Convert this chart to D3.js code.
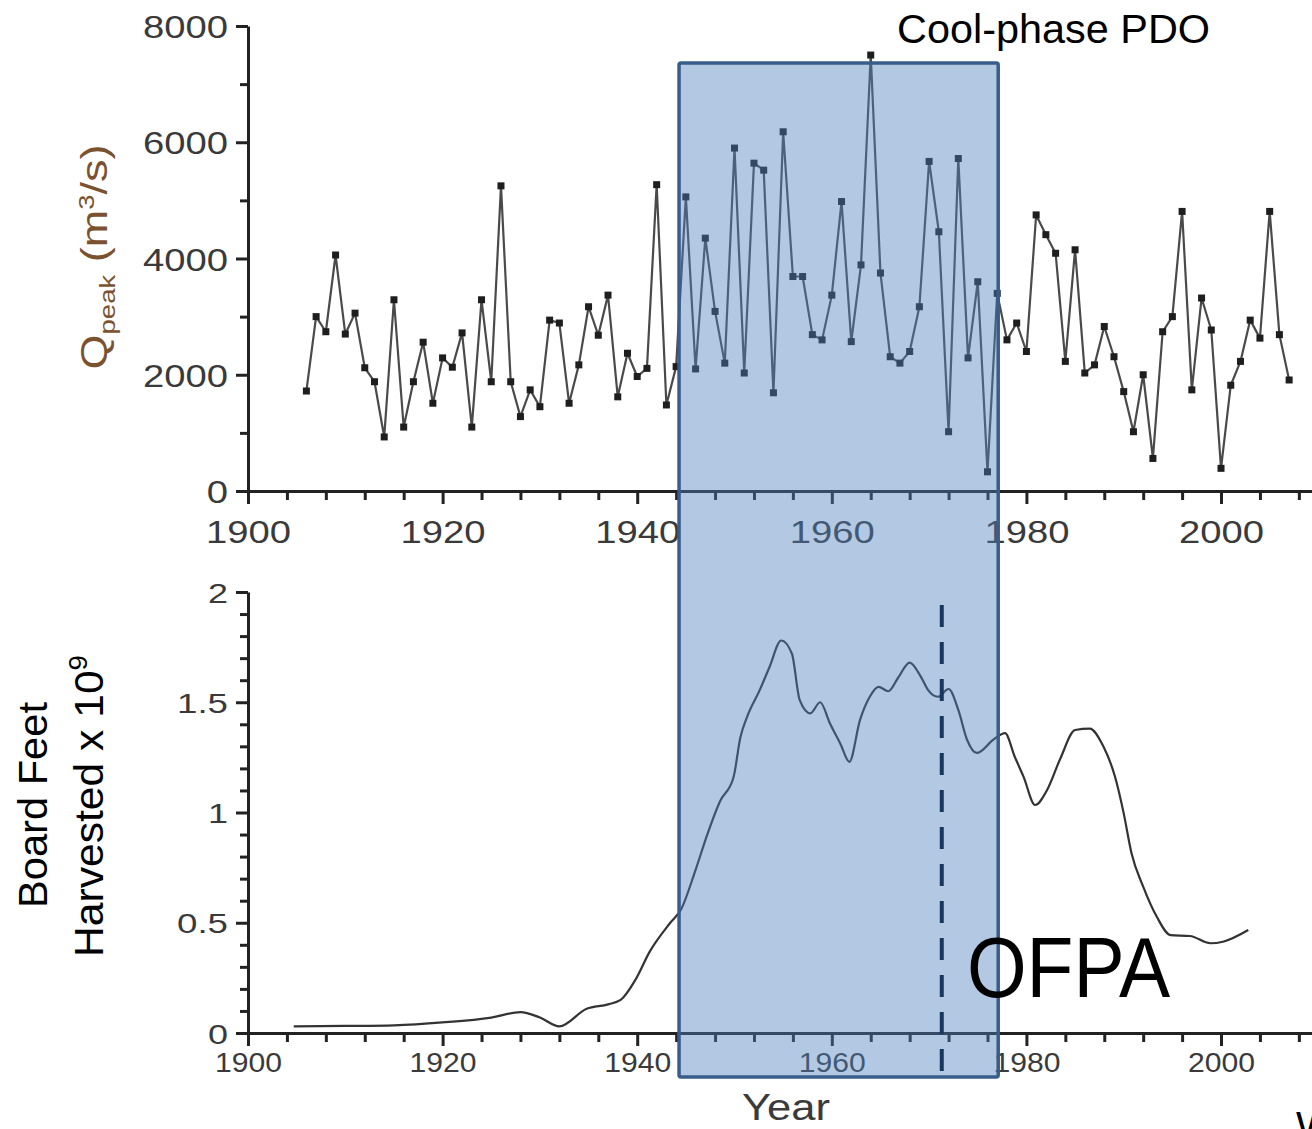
<!DOCTYPE html>
<html><head><meta charset="utf-8">
<script src="https://cdn.jsdelivr.net/npm/d3@7"></script>
<style>html,body{margin:0;padding:0;background:#fff;overflow:hidden}</style>
</head><body><svg id="c" width="1312" height="1129"></svg>
<script>
// ---------- data ----------
const peakYears = [1906,1907,1908,1909,1910,1911,1912,1913,1914,1915,1916,1917,1918,1919,1920,1921,1922,1923,1924,1925,1926,1927,1928,1929,1930,1931,1932,1933,1934,1935,1936,1937,1938,1939,1940,1941,1942,1943,1944,1945,1946,1947,1948,1949,1950,1951,1952,1953,1954,1955,1956,1957,1958,1959,1960,1961,1962,1963,1964,1965,1966,1967,1968,1969,1970,1971,1972,1973,1974,1975,1976,1977,1978,1979,1980,1981,1982,1983,1984,1985,1986,1987,1988,1989,1990,1991,1992,1993,1994,1995,1996,1997,1998,1999,2000,2001,2002,2003,2004,2005,2006,2007];
const peakFlow = [1720,3000,2740,4060,2700,3060,2120,1880,930,3290,1100,1880,2560,1510,2290,2130,2720,1100,3290,1880,5250,1880,1280,1740,1450,2940,2890,1510,2170,3170,2680,3370,1620,2370,1970,2110,5270,1480,2140,5060,2100,4350,3090,2200,5900,2030,5640,5520,1690,6180,3690,3690,2690,2600,3370,4980,2570,3890,7500,3750,2310,2200,2400,3170,5670,4460,1020,5720,2290,3600,330,3400,2600,2890,2400,4750,4410,4090,2230,4150,2030,2170,2830,2310,1710,1020,2000,560,2740,3000,4810,1740,3320,2770,390,1820,2230,2940,2630,4810,2690,1910];

const harvestYears = [1904.7,1910,1915,1920,1925,1928,1930,1932,1934.8,1937,1938.3,1939.8,1941.3,1943.4,1944.5,1946,1947.2,1948.5,1949.9,1950.6,1951.3,1952.6,1953.6,1954.8,1955.9,1956.7,1957.8,1958.8,1959.8,1960.9,1961.8,1962.9,1963.9,1964.8,1965.8,1966.8,1968.0,1969.1,1969.9,1970.9,1972.0,1973.0,1973.9,1974.9,1976.6,1977.8,1978.8,1979.7,1980.9,1982.1,1983.5,1985.0,1986.5,1987.9,1989.1,1990.0,1990.8,1992.0,1993.4,1994.8,1996.8,1998.9,2000.2,2002.8];
const harvestBF = [0.03,0.032,0.035,0.048,0.07,0.095,0.07,0.03,0.11,0.13,0.15,0.24,0.37,0.5,0.56,0.74,0.9,1.05,1.16,1.34,1.435,1.556,1.66,1.78,1.72,1.51,1.45,1.5,1.405,1.31,1.23,1.42,1.525,1.57,1.55,1.61,1.68,1.62,1.555,1.525,1.56,1.465,1.33,1.27,1.33,1.36,1.253,1.163,1.034,1.1,1.246,1.374,1.38,1.3,1.163,0.996,0.815,0.664,0.527,0.444,0.44,0.407,0.414,0.467];

const xMajorTicks = [1900,1920,1940,1960,1980,2000];
const xTickLabels = ["1900","1920","1940","1960","1980","2000"];
const xMinorTicks = [1904,1908,1912,1916,1924,1928,1932,1936,1944,1948,1952,1956,1964,1968,1972,1976,1984,1988,1992,1996,2004,2008];
const qMajorTicks = [0,2000,4000,6000,8000];
const qTickLabels = ["0","2000","4000","6000","8000"];
const qMinorTicks = [1000,3000,5000,7000];
const bfMajorTicks = [0,0.5,1,1.5,2];
const bfTickLabels = ["0","0.5","1","1.5","2"];
const bfMinorTicks = [0.1,0.2,0.3,0.4,0.6,0.7,0.8,0.9,1.1,1.2,1.3,1.4,1.6,1.7,1.8,1.9];
const pdoPhase = [1944.3, 1977.1];
const ofpaYear = 1971.3;

// ---------- drawing ----------
const svg = d3.select("#c");
const AX = "#222";
const x = d3.scaleLinear().domain([1900, 2009.35]).range([248, 1312]);
const yQ = d3.scaleLinear().domain([0, 8000]).range([491, 26]);
const yB = d3.scaleLinear().domain([0, 2]).range([1033, 592]);

function styleAxis(g){
  g.attr("font-family", null).attr("font-size", null);
  g.selectAll(".domain").attr("stroke", AX).attr("stroke-width", 3);
  g.selectAll(".tick line").attr("stroke", AX).attr("stroke-width", 3);
}
function labelWidth(s, dw, pw){ let w=0; for(const ch of s) w += (ch==="." ? pw : dw); return w; }

function drawXAxis(yPos, fs, dw, ly){
  const gm = svg.append("g").attr("transform", `translate(0,${yPos})`)
    .call(d3.axisBottom(x).tickValues(xMinorTicks).tickSize(9).tickFormat(""));
  gm.select(".domain").remove(); styleAxis(gm);
  const g = svg.append("g").attr("transform", `translate(0,${yPos})`)
    .call(d3.axisBottom(x).tickValues(xMajorTicks).tickSize(13).tickSizeOuter(0)
      .tickFormat((d,i)=>xTickLabels[i]));
  styleAxis(g);
  g.selectAll(".tick text").attr("y", ly).attr("dy", null)
    .attr("font-family", "Liberation Sans, Arial, sans-serif").attr("font-size", fs)
    .attr("fill", "#3a3a3a")
    .attr("textLength", d => labelWidth(String(d), dw, dw*0.5)).attr("lengthAdjust", "spacingAndGlyphs");
}
function drawYAxis(scale, minor, major, labels, fs, dw, pw){
  const gm = svg.append("g").attr("transform", "translate(248,0)")
    .call(d3.axisLeft(scale).tickValues(minor).tickSize(8).tickFormat(""));
  gm.select(".domain").remove(); styleAxis(gm);
  const g = svg.append("g").attr("transform", "translate(248,0)")
    .call(d3.axisLeft(scale).tickValues(major).tickSize(12).tickSizeOuter(0)
      .tickFormat((d,i)=>labels[i]));
  styleAxis(g);
  g.selectAll(".tick text").attr("x", -20).attr("dy", "0.36em")
    .attr("font-family", "Liberation Sans, Arial, sans-serif").attr("font-size", fs)
    .attr("fill", "#3a3a3a")
    .attr("textLength", (d,i) => labelWidth(labels[i], dw, pw)).attr("lengthAdjust", "spacingAndGlyphs");
}

// top chart
drawYAxis(yQ, qMinorTicks, qMajorTicks, qTickLabels, 32, 21.25, 10);
drawXAxis(491, 32, 21.25, 52);

const peak = peakYears.map((y,i)=>({year:y, v:peakFlow[i]}));
svg.append("path").datum(peak)
  .attr("d", d3.line().x(d=>x(d.year)).y(d=>yQ(d.v)))
  .attr("fill", "none").attr("stroke", "#4a4a4a").attr("stroke-width", 2.2).attr("stroke-linejoin","round");
svg.append("g").selectAll("rect").data(peak).join("rect")
  .attr("x", d=>x(d.year)-3.5).attr("y", d=>yQ(d.v)-3.5)
  .attr("width", 7).attr("height", 7).attr("fill", "#1e1e1e");

// bottom chart
drawYAxis(yB, bfMinorTicks, bfMajorTicks, bfTickLabels, 28, 20, 11);
drawXAxis(1033, 27, 16.75, 39);

const harvest = harvestYears.map((y,i)=>({year:y, v:harvestBF[i]}));
svg.append("path").datum(harvest)
  .attr("d", d3.line().curve(d3.curveMonotoneX).x(d=>x(d.year)).y(d=>yB(d.v)))
  .attr("fill", "none").attr("stroke", "#333").attr("stroke-width", 2.2);

// axis titles
const qt = svg.append("text")
  .attr("transform", "translate(107,257) rotate(-90)")
  .attr("text-anchor", "middle")
  .attr("font-family", "Liberation Sans, Arial, sans-serif").attr("font-size", 36)
  .attr("fill", "#7a5230")
  .attr("textLength", 225).attr("lengthAdjust", "spacingAndGlyphs");
qt.append("tspan").text("Q");
qt.append("tspan").attr("font-size", 22).attr("dy", 8).text("peak");
qt.append("tspan").attr("dy", -8).text(" (m");
qt.append("tspan").attr("font-size", 22).attr("dy", -13).text("3");
qt.append("tspan").attr("dy", 13).text("/s)");

svg.append("text").attr("transform", "translate(47,805) rotate(-90)")
  .attr("text-anchor", "middle").attr("font-family", "Liberation Sans, Arial, sans-serif")
  .attr("font-size", 41).attr("fill", "#000")
  .attr("textLength", 206).attr("lengthAdjust", "spacingAndGlyphs").text("Board Feet");
const ht = svg.append("text").attr("transform", "translate(103,806) rotate(-90)")
  .attr("text-anchor", "middle").attr("font-family", "Liberation Sans, Arial, sans-serif")
  .attr("font-size", 40).attr("fill", "#000")
  .attr("textLength", 302).attr("lengthAdjust", "spacingAndGlyphs");
ht.append("tspan").text("Harvested x 10");
ht.append("tspan").attr("font-size", 26).attr("dy", -16).text("9");

svg.append("text").attr("x", 742).attr("y", 1120)
  .attr("font-family", "Liberation Sans, Arial, sans-serif").attr("font-size", 36)
  .attr("fill", "#3a3a3a").attr("textLength", 88).attr("lengthAdjust", "spacingAndGlyphs").text("Year");

// PDO cool-phase box
svg.append("rect")
  .attr("x", x(pdoPhase[0])).attr("y", 63)
  .attr("width", x(pdoPhase[1]) - x(pdoPhase[0])).attr("height", 1014)
  .attr("rx", 2)
  .attr("fill", "#4f81bd").attr("fill-opacity", 0.43)
  .attr("stroke", "#385d8a").attr("stroke-width", 3.5);

// OFPA dashed line
svg.append("line")
  .attr("x1", x(ofpaYear)).attr("x2", x(ofpaYear)).attr("y1", 605).attr("y2", 1085)
  .attr("stroke", "#17375e").attr("stroke-width", 4).attr("stroke-dasharray", "22,15");

svg.append("text").attr("x", 897).attr("y", 43)
  .attr("font-family", "Liberation Sans, Arial, sans-serif").attr("font-size", 40)
  .attr("fill", "#000").attr("textLength", 313).attr("lengthAdjust", "spacingAndGlyphs")
  .text("Cool-phase PDO");
svg.append("text").attr("x", 967).attr("y", 997)
  .attr("font-family", "Liberation Sans, Arial, sans-serif").attr("font-size", 86)
  .attr("fill", "#000").attr("textLength", 203).attr("lengthAdjust", "spacingAndGlyphs")
  .text("OFPA");
svg.append("text").attr("x", 1296).attr("y", 1140)
  .attr("font-family", "Liberation Sans, Arial, sans-serif").attr("font-size", 40)
  .attr("fill", "#000").text("W");
</script></body></html>
